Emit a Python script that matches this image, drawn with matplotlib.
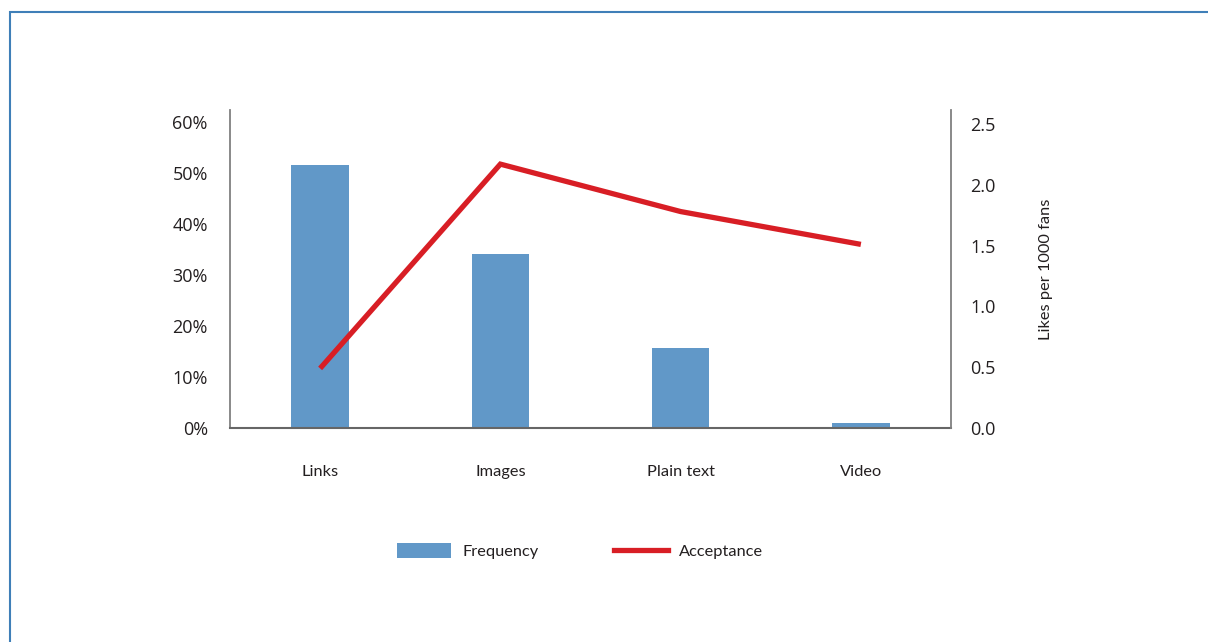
import matplotlib
matplotlib.use("Agg")
import matplotlib.pyplot as plt
from matplotlib.patches import Rectangle, Patch
from matplotlib.lines import Line2D
from matplotlib import font_manager as fm

categories = ["Links", "Images", "Plain text", "Video"]
frequency = [0.516, 0.341, 0.157, 0.010]
acceptance = [0.49, 2.17, 1.78, 1.51]
left_ticks = [0, 0.1, 0.2, 0.3, 0.4, 0.5, 0.6]
left_labels = ["0%", "10%", "20%", "30%", "40%", "50%", "60%"]
right_ticks = [0.0, 0.5, 1.0, 1.5, 2.0, 2.5]

names = {f.name for f in fm.fontManager.ttflist}
narrow = next((n for n in ["Liberation Sans Narrow", "Lato", "Liberation Sans"] if n in names), "DejaVu Sans")
tickfont = "Open Sans" if "Open Sans" in names else "DejaVu Sans"

BLUE = "#6198c8"
RED = "#d81e25"
TXT = "#231f20"

fig = plt.figure(figsize=(12.08, 6.42), dpi=100)
W, H = 1208, 642
# border
fig.patches.append(Rectangle((10 / W, -0.1), 1.2, (H - 12) / H + 0.1, transform=fig.transFigure,
                             fill=False, edgecolor="#3f7fb8", linewidth=1.5))

ax = fig.add_axes([230 / W, 1 - 428 / H, (951 - 230) / W, (428 - 110) / H])
x = list(range(len(categories)))
ax.bar(x, frequency, width=0.32, color=BLUE, zorder=2)
ax.set_xlim(-0.5, 3.5)
ax.set_ylim(0, 0.6 * 318 / 306)
ax.set_yticks(left_ticks)
ax.set_yticklabels(left_labels, fontfamily=tickfont, fontsize=13, color=TXT)
ax.set_xticks(x)
ax.set_xticklabels(categories, fontfamily=narrow, fontsize=11.8, color=TXT)
ax.tick_params(axis="y", length=0, pad=16)
ax.tick_params(axis="x", length=0, pad=26.5)
for s in ["top", "right"]:
    ax.spines[s].set_visible(False)
ax.spines["left"].set_color("#808080")
ax.spines["bottom"].set_color("#666666")
ax.spines["left"].set_linewidth(1.3)
ax.spines["bottom"].set_linewidth(1.5)

ax2 = ax.twinx()
ax2.plot(x, acceptance, color=RED, linewidth=3.8, solid_joinstyle="miter", solid_capstyle="butt", zorder=3)
ax2.set_ylim(0, 2.5 * 318 / 304)
ax2.set_yticks(right_ticks)
ax2.set_yticklabels([f"{v:.1f}" for v in right_ticks], fontfamily=tickfont, fontsize=13, color=TXT)
ax2.tick_params(axis="y", length=0, pad=14)
for s in ["top", "left", "bottom"]:
    ax2.spines[s].set_visible(False)
ax2.spines["right"].set_color("#808080")
ax2.spines["right"].set_linewidth(1.3)
ax2.set_ylabel("Likes per 1000 fans", fontfamily=narrow, fontsize=11.8, color=TXT, labelpad=31)

handles = [Patch(facecolor=BLUE, edgecolor="none"), Line2D([0], [0], color=RED, linewidth=3.8)]
leg = fig.legend(handles, ["Frequency", "Acceptance"], loc="center", bbox_to_anchor=(580 / W, 1 - 551 / H),
                 ncol=2, frameon=False, prop={"family": narrow, "size": 11.8}, handlelength=3.3,
                 handleheight=1.0, columnspacing=4.6, handletextpad=0.7)
for t in leg.get_texts():
    t.set_color(TXT)

fig.savefig("out.png", dpi=100)
